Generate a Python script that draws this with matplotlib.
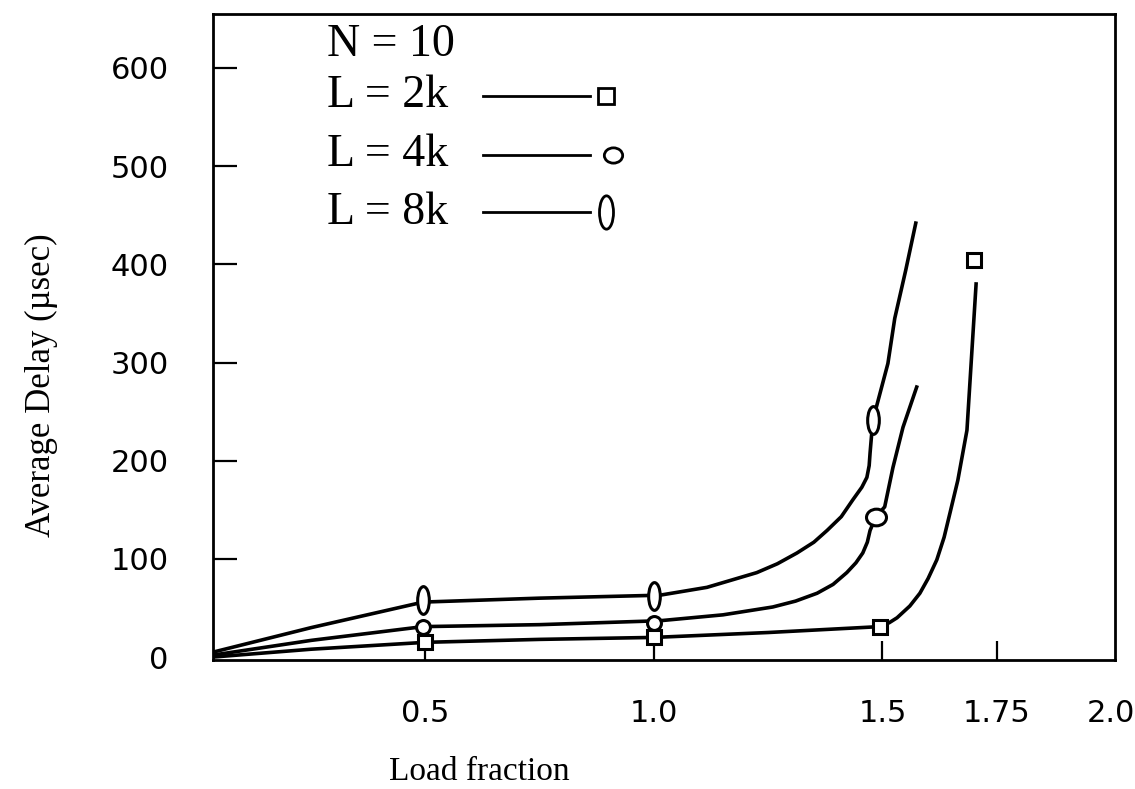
import matplotlib
matplotlib.use("Agg")
import matplotlib.pyplot as plt
from matplotlib.markers import MarkerStyle
from matplotlib.transforms import Affine2D

# curves (load fraction, delay in usec)
x_2k = [0.035, 0.25, 0.50, 0.75, 1.00, 1.25, 1.494, 1.515, 1.532, 1.56, 1.582, 1.60, 1.619, 1.635, 1.648, 1.665, 1.685, 1.696, 1.705]
y_2k = [0, 8, 15, 18, 20, 25, 31, 35, 40, 52, 65, 80, 99, 122, 147, 180, 231, 313, 380]
x_4k = [0.035, 0.25, 0.495, 0.75, 1.013, 1.151, 1.26, 1.31, 1.357, 1.392, 1.422, 1.442, 1.457, 1.467, 1.473, 1.486, 1.505, 1.523, 1.545, 1.575]
y_4k = [2, 17, 31, 33, 37, 43, 51, 57, 65, 74, 86, 96, 106, 117, 129, 143, 153, 193, 234, 275]
x_8k = [0.035, 0.25, 0.495, 0.75, 1.013, 1.116, 1.225, 1.27, 1.313, 1.35, 1.379, 1.41, 1.435, 1.455, 1.466, 1.471, 1.473, 1.479, 1.512, 1.527, 1.551, 1.573]
y_8k = [5, 30, 56, 60, 63, 71, 86, 95, 106, 117, 129, 143, 160, 173, 183, 195, 208, 241, 299, 345, 394, 442]

# measured points (markers)
mx_2k = [0.5, 1.0, 1.494, 1.70]
my_2k = [15, 20, 31, 404]
mx_4k = [0.495, 1.0, 1.486]
my_4k = [31, 35, 143]
mx_8k = [0.495, 1.0, 1.479]
my_8k = [58, 62, 241]

xticks = [0.5, 1.0, 1.5, 1.75, 2.0]
xticklabels = ["0.5", "1.0", "1.5", "1.75", "2.0"]
yticks = [0, 100, 200, 300, 400, 500, 600]

serif = "Liberation Serif"
tall = MarkerStyle("o", transform=Affine2D().scale(0.42, 1.0))
wide = MarkerStyle("o", transform=Affine2D().scale(1.2, 1.0))

fig = plt.figure(figsize=(11.35, 7.89), dpi=100)
ax = fig.add_axes([213 / 1135, 1 - 660 / 789, 902 / 1135, 646 / 789])

ax.plot(x_2k, y_2k, color="black", lw=2.6)
ax.plot(x_4k, y_4k, color="black", lw=2.6)
ax.plot(x_8k, y_8k, color="black", lw=2.6)
ax.plot(mx_2k, my_2k, ls="none", marker="s", ms=10, mfc="white", mec="black", mew=2.2, zorder=3)
ax.plot(mx_4k[:2], my_4k[:2], ls="none", marker="o", ms=10, mfc="white", mec="black", mew=2.2, zorder=3)
ax.plot(mx_4k[2:], my_4k[2:], ls="none", marker=wide, ms=12, mfc="white", mec="black", mew=2.2, zorder=3)
ax.plot(mx_8k, my_8k, ls="none", marker=tall, ms=20, mfc="white", mec="black", mew=2.2, zorder=3)

ax.set_xlim(0.035, 2.009)
ax.set_ylim(-3, 655)
ax.set_xticks(xticks)
ax.set_xticklabels(xticklabels)
ax.set_yticks(yticks)
ax.tick_params(axis="x", direction="in", length=14, width=1.6, pad=28, labelsize=22)
ax.tick_params(axis="y", direction="in", length=17, width=1.6, pad=32, labelsize=22)
ax.xaxis.get_major_ticks()[-1].tick1line.set_visible(False)
ax.yaxis.get_major_ticks()[0].tick1line.set_visible(False)
for s in ax.spines.values():
    s.set_linewidth(2.0)

ax.set_xlabel("Load fraction", family=serif, fontsize=24)
ax.xaxis.set_label_coords(0.295, -0.150)
ax.set_ylabel("Average Delay (\u00b5sec)", family=serif, fontsize=25)
ax.yaxis.set_label_coords(-0.172, 0.426)

# legend block written inside the frame
ax.text(0.126, 0.952, "N = 10", family=serif, fontsize=33, va="center", transform=ax.transAxes)
labels = ["L = 2k", "L = 4k", "L = 8k"]
rows = [0.873, 0.782, 0.693]
for lab, yy in zip(labels, rows):
    ax.text(0.126, yy, lab, family=serif, fontsize=33, va="center", transform=ax.transAxes)
    ax.plot([0.299, 0.418], [yy, yy], color="black", lw=2.0, transform=ax.transAxes)
ax.plot([0.436], [rows[0]], marker="s", ms=11, mfc="white", mec="black", mew=2.0, transform=ax.transAxes)
ax.plot([0.444], [rows[1]], marker=wide, ms=11, mfc="white", mec="black", mew=2.0, transform=ax.transAxes)
ax.plot([0.436], [rows[2]], marker=tall, ms=24, mfc="white", mec="black", mew=2.0, transform=ax.transAxes)

fig.savefig("out.png", dpi=100)
